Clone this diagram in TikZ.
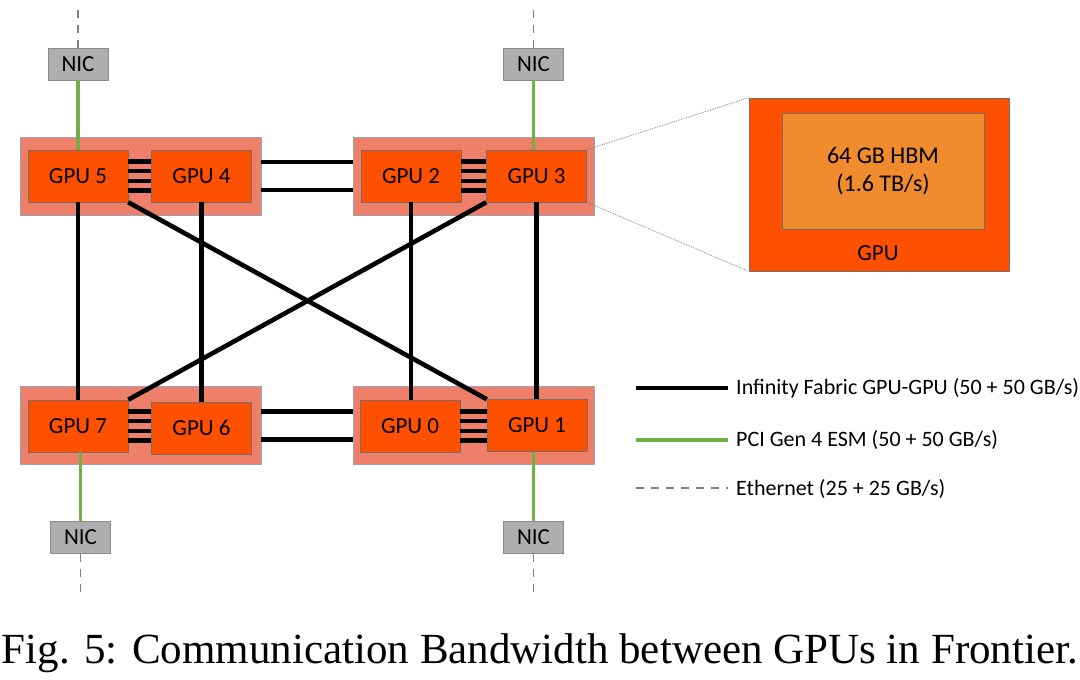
\documentclass[tikz,border=0pt]{standalone}
\usepackage{fontspec}
\setmainfont{Carlito}
\newfontfamily\capfont{Liberation Serif}
\definecolor{boardred}{HTML}{EE7F69}
\definecolor{bordgray}{HTML}{9AA3BA}
\definecolor{gpured}{HTML}{FF5000}
\definecolor{gpuedge}{HTML}{7A6A6A}
\definecolor{hbmorange}{HTML}{F08C2E}
\definecolor{nicgray}{HTML}{AEAEAE}
\definecolor{nicedge}{HTML}{8A8A8A}
\definecolor{pcigreen}{HTML}{72B043}
\begin{document}
\begin{tikzpicture}[line join=round, x=1pt, y=-1pt, font=\fontsize{23}{27}\selectfont,
    board/.style={draw=bordgray, line width=0.6pt, fill=boardred, minimum width=241pt, minimum height=78pt, inner sep=0pt},
    gpu/.style={draw=gpuedge, line width=0.6pt, fill=gpured, minimum width=100pt, minimum height=52pt, inner sep=0pt},
    nic/.style={draw=nicedge, line width=0.6pt, fill=nicgray, minimum width=60pt, minimum height=32pt, inner sep=0pt},
    legend/.style={anchor=west, inner sep=0pt, font=\fontsize{22}{26}\selectfont},
    fabric/.style={line width=4.6pt},
    pcie/.style={pcigreen, line width=3.8pt},
    ether/.style={gray, line width=1.3pt, dash pattern=on 8pt off 7pt}]
    \useasboundingbox (0,0) rectangle (1080,680);
    \node[board] (b54) at (140.5,176) {};
    \node[board] (b23) at (473.5,176) {};
    \node[board] (b76) at (140.5,425.5) {};
    \node[board] (b01) at (473.5,425.5) {};
    \node[gpu] (g5) at (78,176) {GPU 5};
    \node[gpu] (g4) at (201.5,176) {GPU 4};
    \node[gpu] (g2) at (411,176) {GPU 2};
    \node[gpu] (g3) at (536.5,176) {GPU 3};
    \node[gpu] (g7) at (78,426) {GPU 7};
    \node[gpu] (g6) at (201.5,428) {GPU 6};
    \node[gpu] (g0) at (410,426) {GPU 0};
    \node[gpu] (g1) at (537,425.5) {GPU 1};
    \node[nic] (n5) at (78,64) {NIC};
    \node[nic] (n3) at (533.5,64) {NIC};
    \node[nic] (n7) at (80.5,537.5) {NIC};
    \node[nic] (n1) at (533.5,537.5) {NIC};
    \foreach \a/\b in {g5/g4, g2/g3, g7/g6, g0/g1}
        \foreach \d in {-14.5,-4.8,4.8,14.5}
            \draw[line width=4.2pt] ([yshift=\d pt]\a.east) -- ([yshift=\d pt]\a.east -| \b.west);
    \foreach \d in {14,-14}
        \draw[fabric] ([yshift=\d pt]b54.east) -- ([yshift=\d pt]b23.west)
                      ([yshift=\d pt]b76.east) -- ([yshift=\d pt]b01.west);
    \foreach \a/\b in {g5/g7, g4/g6, g2/g0, g3/g1}
        \draw[fabric] (\a.south) -- (\a.south |- \b.north);
    \draw[fabric] (g5.south east) -- (g1.north west)
                  (g3.south west) -- (g7.north east);
    \draw[pcie] (n5.south) -- (n5.south |- g5.north)
                (n3.south) -- (n3.south |- g3.north)
                (n7.north) -- (n7.north |- g7.south)
                (n1.north) -- (n1.north |- g1.south);
    \draw[ether] (n5.north) -- ++(0,-40) (n3.north) -- ++(0,-40)
                 (n7.south) -- ++(0,42) (n1.south) -- ++(0,42);
    \node[gpu, minimum width=260pt, minimum height=173pt] (big) at (879,184.5) {};
    \node[draw=gpuedge, line width=0.6pt, fill=hbmorange, minimum width=202pt, minimum height=116pt, align=center, font=\fontsize{24}{28}\selectfont] (hbm) at (883,171) {64 GB HBM\\(1.6 TB/s)};
    \node (biglbl) at (878,253) {GPU};
    \draw[gray, densely dotted, line width=0.8pt] (g3.north east) -- (big.north west)
                                                (g3.south east) -- (big.south west);
    \node[legend] (lg1) at (736,388) {Infinity Fabric GPU-GPU (50 + 50 GB/s)};
    \node[legend] (lg2) at (736,440) {PCI Gen 4 ESM (50 + 50 GB/s)};
    \node[legend] (lg3) at (736,489) {Ethernet (25 + 25 GB/s)};
    \coordinate (k1) at (636,388);
    \coordinate (k2) at (636,440);
    \coordinate (k3) at (636,488);
    \draw[fabric] (k1) -- ([xshift=-8pt]k1 -| lg1.west);
    \draw[pcie] (k2) -- ([xshift=-8pt]k2 -| lg2.west);
    \draw[ether] (k3) -- ([xshift=-8pt]k3 -| lg3.west);
    \node[font=\capfont\fontsize{43}{50}\selectfont, anchor=base] (cap) at (540,663) {Fig. 5: Communication Bandwidth between GPUs in Frontier.};
\end{tikzpicture}
\end{document}
